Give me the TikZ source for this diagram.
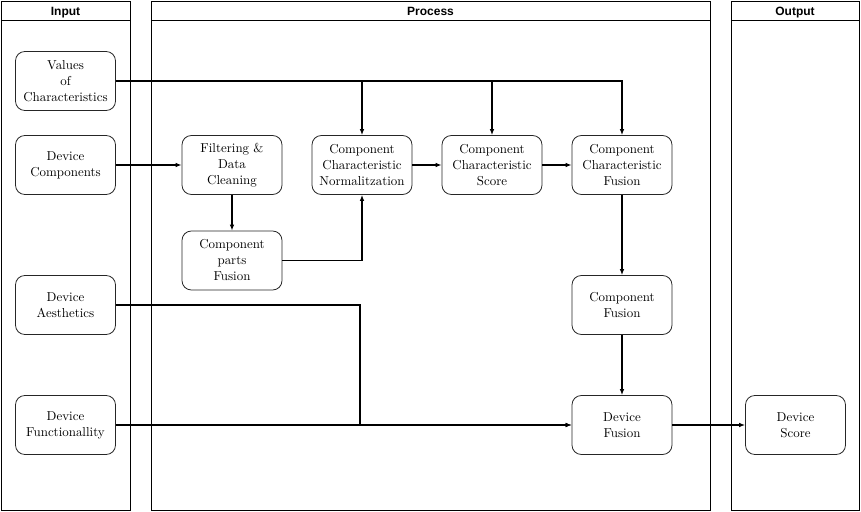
\documentclass[tikz,border=0pt]{standalone}
\usepackage{fontspec}
\newfontfamily\hdfont{Liberation Sans}
\usetikzlibrary{arrows.meta}
\begin{document}
\begin{tikzpicture}[x=0.75pt,y=-0.75pt,
  box/.style={draw=black!85, line width=0.6pt, rounded corners=7pt,
    minimum width=75pt, minimum height=44.25pt, align=center, inner sep=1pt,
    font=\fontsize{9.7}{12}\selectfont},
  lane/.style={draw=black, line width=0.75pt},
  lanetitle/.style={font=\hdfont\bfseries\fontsize{9}{11}\selectfont, inner sep=0pt, anchor=base},
  conn/.style={draw=black, line width=1.2pt, -{Latex[length=4.5pt,width=3.5pt]}},
]
\useasboundingbox (0,0) rectangle (861,511);
% lanes
\draw[lane] (1,1) rectangle (130,510);
\draw[lane] (1,20) -- (130,20);
\node[lanetitle] (tin) at (65.5,15.5) {Input};
\draw[lane] (151,1) rectangle (710,510);
\draw[lane] (151,20) -- (710,20);
\node[lanetitle] (tproc) at (430.5,15.5) {Process};
\draw[lane] (731,1) rectangle (859,510);
\draw[lane] (731,20) -- (859,20);
\node[lanetitle] (tout) at (795,15.5) {Output};
% nodes
\node[box] (vals) at (65.5,81) {Values\\of\\Characteristics};
\node[box] (dcomp) at (65.5,165) {Device\\Components};
\node[box] (aes) at (65.5,305) {Device\\Aesthetics};
\node[box] (func) at (65.5,425) {Device\\Functionallity};
\node[box] (filt) at (232,165) {Filtering \&\\Data\\Cleaning};
\node[box] (parts) at (232,260.5) {Component\\parts\\Fusion};
\node[box] (norm) at (362,165) {Component\\Characteristic\\Normalitzation};
\node[box] (score) at (492,165) {Component\\Characteristic\\Score};
\node[box] (ccf) at (622,165) {Component\\Characteristic\\Fusion};
\node[box] (cfus) at (622,305) {Component\\Fusion};
\node[box] (dfus) at (622,425) {Device\\Fusion};
\node[box] (dscore) at (795.5,425) {Device\\Score};
% connectors
\draw[conn] (vals.east) -| (norm.north);
\draw[conn] (vals.east) -| (score.north);
\draw[conn] (vals.east) -| (ccf.north);
\draw[conn] (dcomp) -- (filt);
\draw[conn] (filt) -- (parts);
\draw[conn] (parts.east) -| (norm.south);
\draw[conn] (norm) -- (score);
\draw[conn] (score) -- (ccf);
\draw[conn] (ccf) -- (cfus);
\draw[conn] (cfus) -- (dfus);
\coordinate (bend) at (360,425);
\draw[conn] (aes.east) -| (bend) -- (dfus.west);
\draw[conn] (func) -- (dfus);
\draw[conn] (dfus) -- (dscore);
\end{tikzpicture}
\end{document}
